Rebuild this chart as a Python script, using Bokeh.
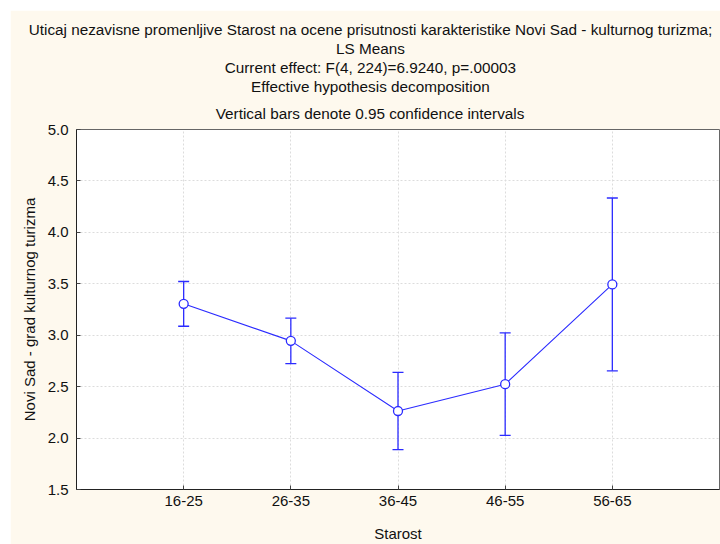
from bokeh.plotting import figure
from bokeh.models import (FixedTicker, Whisker, ColumnDataSource, Range1d,
                          NumeralTickFormatter, Title)
from bokeh.embed import file_html
from bokeh.resources import INLINE

# LS means with 0.95 confidence limits per age group
groups = ["16-25", "26-35", "36-45", "46-55", "56-65"]
means = [3.305, 2.945, 2.263, 2.524, 3.494]
lower = [3.087, 2.724, 1.888, 2.026, 2.654]
upper = [3.522, 3.166, 2.638, 3.022, 4.334]

title_lines = [
    "Uticaj nezavisne promenljive Starost na ocene prisutnosti karakteristike Novi Sad - kulturnog turizma;",
    "LS Means",
    "Current effect: F(4, 224)=6.9240, p=.00003",
    "Effective hypothesis decomposition",
    "Vertical bars denote 0.95 confidence intervals",
]
x_label = "Starost"
y_label = "Novi Sad - grad kulturnog turizma"
y_ticks = [1.5, 2.0, 2.5, 3.0, 3.5, 4.0, 4.5, 5.0]

FONT = "Liberation Sans"
CREAM = "#FEF9EE"
BLUE = "#2B2BFF"
INK = "#111111"
TITLE_SIZE = 15.3
TITLE_CX = 294   # heading centre, px right of the frame's left edge
TITLE_GAP = 16   # extra room between the frame and the last heading line

# Liberation Sans / Arial advance widths (1/1000 em) for centring the heading lines
_W = {" ": 278, "(": 333, ")": 333, ",": 278, "-": 333, ".": 278, ":": 278, ";": 278,
      "=": 584}
_W.update({d: 556 for d in "0123456789"})
_W.update(dict(zip("ABCDEFGHIJKLMNOPQRSTUVWXYZ",
                   [667, 667, 722, 722, 667, 611, 778, 722, 278, 500, 667, 556, 833,
                    722, 778, 667, 778, 722, 667, 611, 722, 667, 944, 667, 667, 611])))
_W.update(dict(zip("abcdefghijklmnopqrstuvwxyz",
                   [556, 556, 500, 556, 556, 278, 556, 556, 222, 222, 500, 222, 833,
                    556, 556, 556, 556, 333, 500, 278, 556, 500, 722, 500, 500, 500])))


def text_width(s, size):
    return sum(_W.get(c, 556) for c in s) * size / 1000.0


xs = list(range(1, len(groups) + 1))
src = ColumnDataSource(dict(x=xs, mean=means, lower=lower, upper=upper))

p = figure(width=710, height=534, output_backend="svg", toolbar_location=None,
           x_range=Range1d(0, len(groups) + 1), y_range=Range1d(1.5, 5.0),
           min_border_left=66, min_border_right=1, min_border_top=119,
           min_border_bottom=51, margin=(10, 0, 0, 10))
p.background_fill_color = "white"
p.border_fill_color = CREAM
p.outline_line_color = "#666666"
p.outline_line_width = 1

# main axes
bottom_ax = p.below[0]
left_ax = p.left[0]
bottom_ax.ticker = FixedTicker(ticks=xs)
bottom_ax.major_label_overrides = {x: g for x, g in zip(xs, groups)}
left_ax.ticker = FixedTicker(ticks=y_ticks)
left_ax.formatter = NumeralTickFormatter(format="0.0")
for ax in (bottom_ax, left_ax):
    ax.axis_line_color = "#222222"
    ax.major_tick_in = 4
    ax.major_tick_out = 0
    ax.minor_tick_line_color = None
    ax.major_tick_line_color = "#444444"
    ax.major_label_text_font = FONT
    ax.major_label_text_font_size = "15px"
    ax.major_label_text_color = INK
    ax.axis_label_text_font = FONT
    ax.axis_label_text_font_size = "15px"
    ax.axis_label_text_font_style = "normal"
    ax.axis_label_text_color = INK
bottom_ax.axis_label = x_label
left_ax.axis_label = y_label
bottom_ax.major_label_standoff = 6
bottom_ax.axis_label_standoff = 16
left_ax.major_label_standoff = 8
left_ax.axis_label_standoff = 7

# heading: the line nearest the frame is added first and carries the gap
for i, t in enumerate(reversed(title_lines)):
    p.add_layout(Title(text=t, align="left",
                       offset=TITLE_CX - text_width(t, TITLE_SIZE) / 2,
                       standoff=TITLE_GAP if i == 0 else 0,
                       text_font=FONT, text_font_size=f"{TITLE_SIZE}px",
                       text_font_style="normal", text_color=INK), "above")

for g in (p.xgrid[0], p.ygrid[0]):
    g.grid_line_color = "#DCDCDC"
    g.grid_line_dash = "2 2"
    g.grid_line_width = 1
p.xgrid[0].ticker = FixedTicker(ticks=xs)
p.ygrid[0].ticker = FixedTicker(ticks=y_ticks)

# confidence intervals
w = Whisker(source=src, base="x", lower="lower", upper="upper",
            line_color=BLUE, line_width=1.3)
for h in (w.upper_head, w.lower_head):
    h.line_color = BLUE
    h.size = 11
    h.line_width = 1.3
p.add_layout(w)

# means
p.line("x", "mean", source=src, line_color=BLUE, line_width=1.1)
p.scatter("x", "mean", source=src, size=9, fill_color="white",
          line_color=BLUE, line_width=1.3)

open("out.html", "w").write(file_html(p, INLINE))
